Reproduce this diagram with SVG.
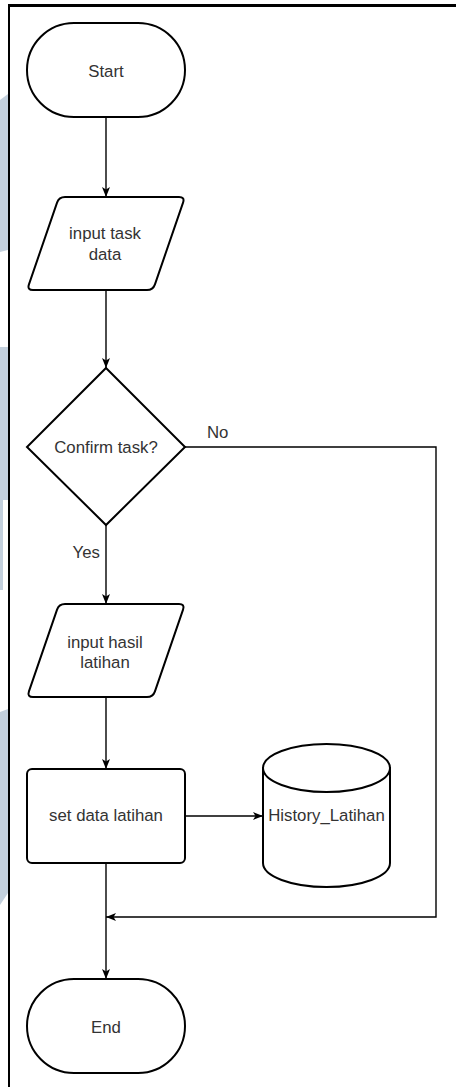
<svg xmlns="http://www.w3.org/2000/svg" width="456" height="1087" viewBox="0 0 456 1087">
  <style>
    .shape { fill: #ffffff; stroke: #000000; stroke-width: 2; }
    .edge { fill: none; stroke: #000000; stroke-width: 1.4; }
    .lbl { font-family: "Liberation Sans", Arial, Helvetica, sans-serif; font-size: 16.8px; fill: #333333; text-anchor: middle; }
    .band { fill: #c3d0dd; }
  </style>
  <defs>
    <marker id="arrow" markerUnits="userSpaceOnUse" markerWidth="11" markerHeight="9" refX="10" refY="4" orient="auto">
      <path d="M0,0 L10,4 L0,8 L2.5,4 Z" fill="#000000"/>
    </marker>
    <path id="para" d="M65,197 L179,197 Q185,197 183.05,202.68 L154.95,284.32 Q153,290 147,290 L33,290 Q27,290 28.95,284.32 L57.05,202.68 Q59,197 65,197 Z"/>
  </defs>

  <rect width="456" height="1087" fill="#ffffff"/>

  <!-- side bands along the left margin -->
  <polygon class="band" points="0,100 8,94 8,250 0,252"/>
  <polygon class="band" points="0,347 8,347 8,500 3,500 3,590 0,590"/>
  <polygon class="band" points="0,712 8,709 8,893 0,905"/>

  <!-- frame -->
  <rect x="8" y="4" width="448" height="3" fill="#000000"/>
  <rect x="8" y="4" width="2" height="1083" fill="#000000"/>

  <g id="connectors">
    <line class="edge" x1="106" y1="117" x2="106" y2="197" marker-end="url(#arrow)"/>
    <line class="edge" x1="106" y1="290" x2="106" y2="368" marker-end="url(#arrow)"/>
    <line class="edge" x1="106" y1="525" x2="106" y2="604" marker-end="url(#arrow)"/>
    <line class="edge" x1="106" y1="698" x2="106" y2="769" marker-end="url(#arrow)"/>
    <line class="edge" x1="185" y1="816" x2="263" y2="816" marker-end="url(#arrow)"/>
    <line class="edge" x1="106" y1="863" x2="106" y2="979" marker-end="url(#arrow)"/>
    <polyline class="edge" points="185,447 436,447 436,917 106,917" marker-end="url(#arrow)"/>
    <text class="lbl" x="207" y="438" style="text-anchor:start">No</text>
    <text class="lbl" x="100" y="558" style="text-anchor:end">Yes</text>
  </g>

  <g id="start">
    <rect class="shape" x="27" y="23" width="158" height="94" rx="47" ry="47"/>
    <text class="lbl" x="106" y="77">Start</text>
  </g>

  <g id="input-task-data">
    <use href="#para" class="shape"/>
    <text class="lbl" x="105" y="239">input task</text>
    <text class="lbl" x="105" y="260">data</text>
  </g>

  <g id="confirm-task">
    <polygon class="shape" points="106,368 185,447 106,525 27,447"/>
    <text class="lbl" x="106" y="453">Confirm task?</text>
  </g>

  <g id="input-hasil-latihan">
    <use href="#para" class="shape" transform="translate(0,407)"/>
    <text class="lbl" x="105" y="648">input hasil</text>
    <text class="lbl" x="105" y="668">latihan</text>
  </g>

  <g id="set-data-latihan">
    <rect class="shape" x="27" y="769" width="158" height="94" rx="5" ry="5"/>
    <text class="lbl" x="106" y="821">set data latihan</text>
  </g>

  <g id="history-latihan">
    <path class="shape" d="M263,768 L263,863 A63.5,24 0 0 0 390,863 L390,768 Z"/>
    <ellipse class="shape" cx="326.5" cy="768" rx="63.5" ry="24"/>
    <text class="lbl" x="326.5" y="821">History_Latihan</text>
  </g>

  <g id="end">
    <rect class="shape" x="27" y="979" width="158" height="94" rx="47" ry="47"/>
    <text class="lbl" x="106" y="1033">End</text>
  </g>
</svg>
